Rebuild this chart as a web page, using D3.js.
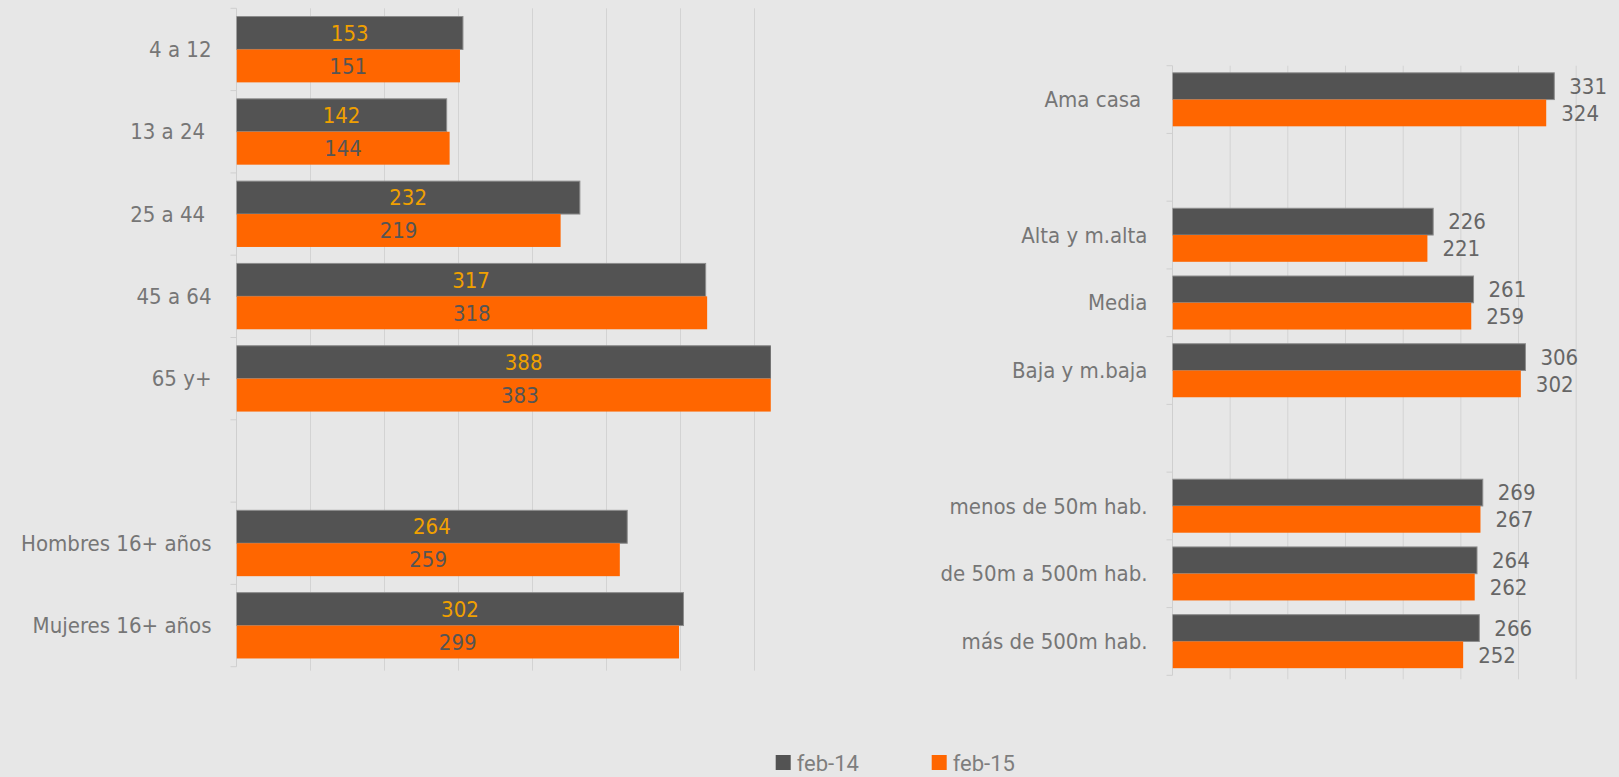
<!DOCTYPE html>
<html>
<head>
<meta charset="utf-8">
<script src="https://cdn.jsdelivr.net/npm/d3@7"></script>
<style>
  html, body { margin: 0; padding: 0; background: #e7e7e7; }
  svg { display: block; }
  .cat { font-family: "Liberation Sans Narrow", "DejaVu Sans Condensed", sans-serif; white-space: pre; }
</style>
</head>
<body>
<svg id="chart"></svg>
<script>
// series
const series = ["feb-14", "feb-15"];
const colors = ["#535353", "#ff6600"];

// left panel: edad / sexo ("" = hueco)
const leftCats = ["4 a 12", "13 a 24 ", "25 a 44 ", "45 a 64", "65 y+", "", "Hombres 16+ años", "Mujeres 16+ años"];
const leftFeb14 = [153, 142, 232, 317, 388, null, 264, 302];
const leftFeb15 = [151, 144, 219, 318, 383, null, 259, 299];

// right panel: ama de casa / clase / habitat
const rightCats = ["Ama casa ", "", "Alta y m.alta", "Media", "Baja y m.baja", "", "menos de 50m hab.", "de 50m a 500m hab.", "más de 500m hab."];
const rightFeb14 = [331, null, 226, 261, 306, null, 269, 264, 266];
const rightFeb15 = [324, null, 221, 259, 302, null, 267, 262, 252];

const gridTicks = [50, 100, 150, 200, 250, 300, 350];

const width = 1619;
const height = 777;

const svg = d3.select("#chart")
  .attr("width", width)
  .attr("height", height);

svg.append("rect")
  .attr("width", width)
  .attr("height", height)
  .attr("fill", "#e7e7e7");

function drawPanel(opt) {
  const cats = opt.cats;
  const vals = [opt.a, opt.b];
  const idx = d3.range(cats.length);

  const x = d3.scaleLinear().domain(opt.domain).range(opt.xRange);
  const y = d3.scaleBand()
    .domain(idx)
    .range(opt.yRange)
    .paddingInner(opt.pad)
    .paddingOuter(opt.pad / 2);
  const ySub = d3.scaleBand().domain([0, 1]).range([0, y.bandwidth()]);
  const step = y.step();
  const top = opt.yRange[0];
  const bottom = opt.yRange[1];

  const g = svg.append("g");

  // clip (bars beyond the axis max are cut)
  const clipId = "clip" + opt.id;
  svg.append("clipPath").attr("id", clipId)
    .append("rect")
    .attr("x", x(0))
    .attr("y", top)
    .attr("width", x(opt.domain[1]) - x(0))
    .attr("height", bottom - top);

  // gridlines
  g.append("g")
    .selectAll("line")
    .data(gridTicks)
    .join("line")
    .attr("x1", d => x(d)).attr("x2", d => x(d))
    .attr("y1", top).attr("y2", bottom + 4)
    .attr("stroke", "#d3d3d3")
    .attr("stroke-width", 1);

  // category axis
  g.append("line")
    .attr("x1", x(0)).attr("x2", x(0))
    .attr("y1", top).attr("y2", bottom)
    .attr("stroke", "#cfcfcf");
  g.append("g")
    .selectAll("line")
    .data(d3.range(cats.length + 1))
    .join("line")
    .attr("x1", x(0) - 6).attr("x2", x(0))
    .attr("y1", d => top + d * step).attr("y2", d => top + d * step)
    .attr("stroke", "#cfcfcf");

  // bars
  const bars = g.append("g").attr("clip-path", `url(#${clipId})`);
  vals.forEach((arr, s) => {
    bars.append("g")
      .selectAll("rect")
      .data(idx.filter(i => arr[i] != null))
      .join("rect")
      .attr("x", x(0))
      .attr("y", i => y(i) + ySub(s))
      .attr("width", i => x(arr[i]) - x(0))
      .attr("height", ySub.bandwidth())
      .attr("fill", colors[s])
      .attr("stroke", s === 0 ? "#8c8c8c" : "none")
      .attr("stroke-width", 1);
  });

  // category labels
  g.append("g")
    .selectAll("text")
    .data(idx.filter(i => cats[i] !== ""))
    .join("text")
    .attr("class", "cat")
    .attr("x", x(0) - 25)
    .attr("y", i => y(i) + y.bandwidth() / 2)
    .attr("dy", "0.35em")
    .attr("text-anchor", "end")
    .attr("font-size", opt.fs)
    .attr("fill", "#767676")
    .text(i => cats[i]);

  // value labels
  vals.forEach((arr, s) => {
    g.append("g")
      .selectAll("text")
      .data(idx.filter(i => arr[i] != null))
      .join("text")
      .attr("class", "cat")
      .attr("x", i => opt.inside ? x(arr[i] / 2) : x(arr[i]) + 15)
      .attr("y", i => y(i) + ySub(s) + ySub.bandwidth() / 2)
      .attr("dy", "0.35em")
      .attr("text-anchor", opt.inside ? "middle" : "start")
      .attr("font-size", opt.fs)
      .attr("fill", opt.inside ? (s === 0 ? "#f0a000" : "#555555") : "#666666")
      .text(i => arr[i]);
  });
}

drawPanel({
  id: "L", cats: leftCats, a: leftFeb14, b: leftFeb15,
  domain: [0, 361], xRange: [236.5, 236.5 + 361 * 1.48],
  yRange: [8.3, 666.7], pad: 0.2, inside: true, fs: 22
});

drawPanel({
  id: "R", cats: rightCats, a: rightFeb14, b: rightFeb15,
  domain: [0, 350], xRange: [1172.5, 1576.2],
  yRange: [65.7, 675.3], pad: 0.21, inside: false, fs: 22
});

// legend
const legend = svg.append("g")
  .selectAll("g")
  .data(series)
  .join("g")
  .attr("transform", (d, i) => `translate(${775.7 + i * 156},755)`);
legend.append("rect")
  .attr("width", 15).attr("height", 15)
  .attr("fill", (d, i) => colors[i]);
legend.append("text")
  .attr("x", 21).attr("y", 7.5).attr("dy", "0.38em")
  .attr("font-family", "Roboto, sans-serif")
  .attr("font-size", 22)
  .attr("fill", "#7e7e7e")
  .text(d => d);
</script>
</body>
</html>
